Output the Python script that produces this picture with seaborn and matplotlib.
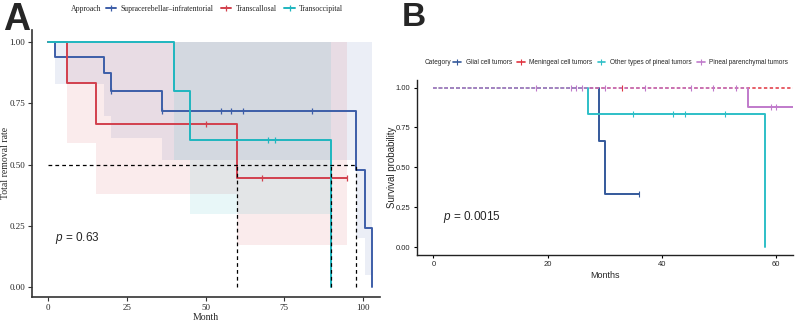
import numpy as np
import pandas as pd
import matplotlib
matplotlib.use("Agg")
import matplotlib.pyplot as plt
from matplotlib.lines import Line2D
import seaborn as sns

# ---------------- Panel A data ----------------
a_names = ["Supracerebellar\u2013infratentorial", "Transcallosal", "Transoccipital"]
a_colors = ["#3D5EA8", "#D2404D", "#1FB6BF"]

sce_time = [0, 2, 17.7, 20, 36, 98, 100.6, 103]
sce_surv = [1.0, 0.941, 0.873, 0.80, 0.72, 0.48, 0.24, 0.0]
sce_low = [1.0, 0.83, 0.70, 0.61, 0.52, 0.20, 0.05, 0.0]
sce_up = [1.0, 1.0, 1.0, 1.0, 1.0, 1.0, 1.0, 1.0]
sce_cens = [20, 36, 55, 58, 62, 84]

tc_time = [0, 6, 15, 60, 95]
tc_surv = [1.0, 0.833, 0.667, 0.444, 0.444]
tc_low = [1.0, 0.59, 0.38, 0.17, 0.17]
tc_up = [1.0, 1.0, 1.0, 1.0, 1.0]
tc_cens = [50, 68, 95]

to_time = [0, 40, 45, 90]
to_surv = [1.0, 0.80, 0.60, 0.0]
to_low = [1.0, 0.52, 0.30, 0.0]
to_up = [1.0, 1.0, 1.0, 1.0]
to_cens = [70, 72]

a_medians = [98, 60, 90]
a_xticks = [0, 25, 50, 75, 100]
a_yticks = [0.00, 0.25, 0.50, 0.75, 1.00]

# ---------------- Panel B data ----------------
b_names = ["Glial cell tumors", "Meningeal cell tumors",
           "Other types of pineal tumors", "Pineal parenchymal tumors"]
b_colors = ["#34599B", "#E0333F", "#2DBFC7", "#C07ACB"]

gl_time = [0, 29, 30, 36]
gl_surv = [1.0, 0.667, 0.333, 0.333]
gl_cens = [36]

me_time = [0, 63]
me_surv = [1.0, 1.0]
me_cens = [33]

ot_time = [0, 27, 58]
ot_surv = [1.0, 0.833, 0.0]
ot_cens = [35, 42, 44, 51]

pp_time = [0, 55, 63]
pp_surv = [1.0, 0.875, 0.875]
pp_cens = [18, 24, 25, 26, 30, 37, 45, 49, 53, 59, 60]

b_xticks = [0, 20, 40, 60]
b_yticks = [0.00, 0.25, 0.50, 0.75, 1.00]


def surv_at(times, surv, t):
    idx = np.searchsorted(np.asarray(times), np.asarray(t), side="right") - 1
    return np.asarray(surv)[idx]


sns.set_theme(style="ticks")
plt.rcParams["font.family"] = ["Liberation Serif", "DejaVu Serif"]
plt.rcParams["mathtext.fontset"] = "custom"
plt.rcParams["mathtext.it"] = "Liberation Sans:italic"
plt.rcParams["mathtext.rm"] = "Liberation Sans"

fig = plt.figure(figsize=(8, 3.22), dpi=100)
axA = fig.add_axes([0.04, 0.078, 0.435, 0.829])
axB = fig.add_axes([0.521, 0.208, 0.470, 0.5435])

# ---------------- Panel A ----------------
curvesA = [(sce_time, sce_surv, sce_low, sce_up, sce_cens),
           (tc_time, tc_surv, tc_low, tc_up, tc_cens),
           (to_time, to_surv, to_low, to_up, to_cens)]
for (t, s, lo, up, ce), c in zip(curvesA, a_colors):
    axA.fill_between(t, lo, up, step="post", color=c, alpha=0.10, linewidth=0)
for (t, s, lo, up, ce), c, n in zip(curvesA, a_colors, a_names):
    df = pd.DataFrame({"Month": t, "Surv": s})
    sns.lineplot(data=df, x="Month", y="Surv", ax=axA, color=c, lw=1.4,
                 drawstyle="steps-post", estimator=None, sort=False)
    axA.plot(ce, surv_at(t, s, ce), linestyle="none", marker="|",
             ms=5, mew=0.9, color=c)

# median lines
axA.plot([0, max(a_medians)], [0.5, 0.5], ls=(0, (3, 2.5)), color="black", lw=0.9)
for m in a_medians:
    axA.plot([m, m], [0, 0.5], ls=(0, (3, 2.5)), color="black", lw=0.9)

axA.set_xlim(-5.2, 105.5)
axA.set_ylim(-0.04, 1.05)
axA.set_xticks(a_xticks)
axA.set_yticks(a_yticks)
axA.set_yticklabels([f"{v:.2f}" for v in a_yticks])
axA.set_xlabel("Month", fontsize=7, labelpad=1)
axA.set_ylabel("Total removal rate", fontsize=7)
axA.yaxis.set_label_coords(-0.062, 0.5)
axA.tick_params(labelsize=6.5, length=3, width=0.8, pad=2, color="#333333")
for sp in ["top", "right"]:
    axA.spines[sp].set_visible(False)
for sp in ["left", "bottom"]:
    axA.spines[sp].set_linewidth(1.2)
    axA.spines[sp].set_color("#333333")
axA.text(2, 0.20, "$p$ = 0.63", fontsize=8.5, family="Liberation Sans",
         va="center", ha="left")

fig.text(71 / 800, 1 - 9 / 322, "Approach", fontsize=5.6, va="center", ha="left")
handlesA = [Line2D([0], [0], color=c, lw=1.4, marker="|", ms=5, mew=0.9)
            for c in a_colors]
fig.legend(handlesA, a_names, loc="center left",
           bbox_to_anchor=(106 / 800, 1 - 9 / 322), ncol=3, frameon=False,
           fontsize=5.6, handlelength=1.3, handletextpad=0.55,
           columnspacing=1.0, borderaxespad=0, borderpad=0)

fig.text(0.004, 0.995, "A", fontsize=27, fontweight="bold",
         family="Liberation Sans", va="top", ha="left")

# ---------------- Panel B ----------------
curvesB = [(gl_time, gl_surv, gl_cens), (me_time, me_surv, me_cens),
           (ot_time, ot_surv, ot_cens), (pp_time, pp_surv, pp_cens)]
dash = (0, (2.2, 1.6))
for (t, s, ce), c, n in zip(curvesB, b_colors, b_names):
    t = np.asarray(t, float)
    s = np.asarray(s, float)
    first = np.argmax(s < 1.0) if np.any(s < 1.0) else len(s)
    # part at 1.0 drawn dashed
    top_end = t[first] if first < len(s) else t[-1]
    axB.plot([t[0], top_end], [1.0, 1.0], ls=dash, color=c, lw=1.1)
    if first < len(s):
        tt = np.concatenate([[t[first]], t[first:]])
        ss = np.concatenate([[1.0], s[first:]])
        df = pd.DataFrame({"Months": tt, "Surv": ss})
        sns.lineplot(data=df, x="Months", y="Surv", ax=axB, color=c, lw=1.4,
                     drawstyle="steps-post", estimator=None, sort=False)
    axB.plot(ce, surv_at(t, s, ce), linestyle="none", marker="|",
             ms=4, mew=0.8, color=c)

axB.set_xlim(-2.9, 62.9)
axB.set_ylim(-0.05, 1.047)
axB.set_xticks(b_xticks)
axB.set_yticks(b_yticks)
axB.set_yticklabels([f"{v:.2f}" for v in b_yticks])
for lab in axB.get_xticklabels() + axB.get_yticklabels():
    lab.set_family("Liberation Sans")
axB.set_xlabel("Months", fontsize=6.5, family="Liberation Sans", labelpad=2)
axB.set_ylabel("Survival probability", fontsize=7, family="Liberation Sans")
axB.yaxis.set_label_coords(-0.052, 0.5)
axB.tick_params(labelsize=5.5, length=2.5, width=0.8, pad=2, color="black")
for sp in ["top", "right"]:
    axB.spines[sp].set_visible(False)
for sp in ["left", "bottom"]:
    axB.spines[sp].set_linewidth(1.0)
    axB.spines[sp].set_color("#222222")
axB.text(1.7, 0.19, "$p$ = 0.0015", fontsize=8.5, family="Liberation Sans",
         va="center", ha="left")

fig.text(425 / 800, 1 - 63 / 322, "Category", fontsize=4.7,
         family="Liberation Sans", va="center", ha="left")
handlesB = [Line2D([0], [0], color=c, lw=1.2, marker="|", ms=4, mew=0.8)
            for c in b_colors]
fig.legend(handlesB, b_names, loc="center left",
           bbox_to_anchor=(453 / 800, 1 - 63 / 322), ncol=4, frameon=False,
           prop={"family": "Liberation Sans", "size": 4.7}, handlelength=1.2,
           handletextpad=0.75, columnspacing=0.75, borderaxespad=0, borderpad=0)

fig.text(0.502, 0.995, "B", fontsize=24, fontweight="bold",
         family="Liberation Sans", va="top", ha="left")

fig.savefig("out.png", dpi=100)
